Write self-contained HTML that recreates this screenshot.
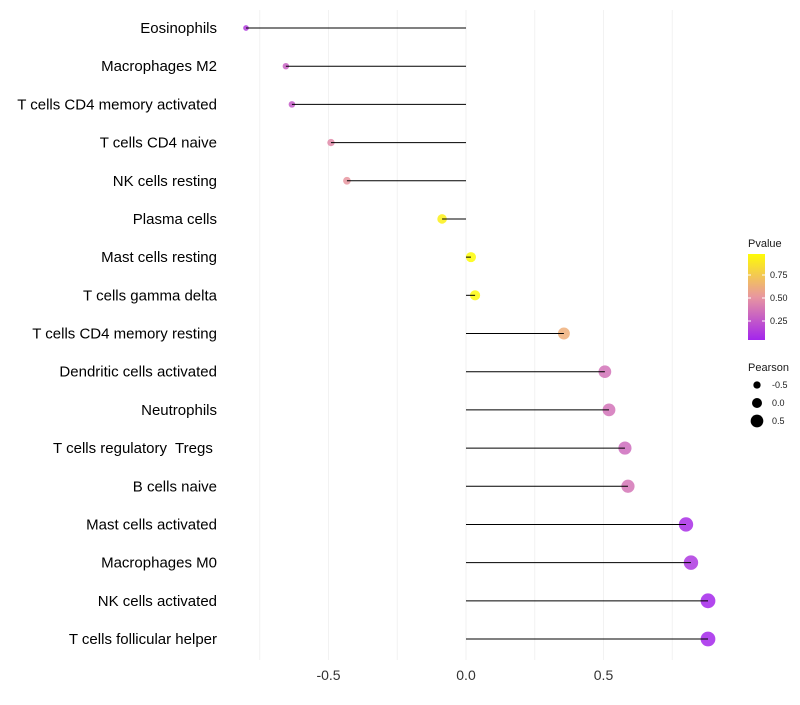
<!DOCTYPE html>
<html><head><meta charset="utf-8"><style>
body{margin:0;background:#fff;font-family:"Liberation Sans",sans-serif}
text{white-space:pre}
</style></head><body>
<svg id="c" width="800" height="700" xmlns="http://www.w3.org/2000/svg"></svg>
<script>
const categories=["Eosinophils","Macrophages M2","T cells CD4 memory activated","T cells CD4 naive","NK cells resting","Plasma cells","Mast cells resting","T cells gamma delta","T cells CD4 memory resting","Dendritic cells activated","Neutrophils","T cells regulatory  Tregs ","B cells naive","Mast cells activated","Macrophages M0","NK cells activated","T cells follicular helper"];
const pearson=[-0.80,-0.655,-0.633,-0.491,-0.433,-0.087,0.018,0.033,0.356,0.505,0.52,0.578,0.589,0.80,0.818,0.88,0.88];
const pvalue=[0.12,0.28,0.25,0.45,0.5,0.93,0.98,0.97,0.62,0.35,0.35,0.32,0.36,0.06,0.1,0.03,0.03];
const xTicks=[-0.5,0,0.5];
const xTickLabels=["-0.5","0.0","0.5"];
const pTicks=[0.25,0.5,0.75];
const pTickLabels=["0.25","0.50","0.75"];
const sizeLegend=[-0.5,0,0.5];
const sizeLegendLabels=["-0.5","0.0","0.5"];

const svg=document.getElementById('c');const NS="http://www.w3.org/2000/svg";
function mk(t,a,p){const e=document.createElementNS(NS,t);for(const k in a)e.setAttribute(k,a[k]);(p||svg).appendChild(e);return e;}
const X=v=>466+v*275;
const Y=i=>28+i*((639-28)/(categories.length-1));
const R=p=>Math.max(1.5,5+2.7*p);
function lerp(a,b,t){return a.map((v,i)=>Math.round(v+(b[i]-v)*t));}
function col(p){const c0=[160,32,240],c1=[232,150,160],c2=[255,255,0];const t=Math.min(1,Math.max(0,p));const c=t<0.5?lerp(c0,c1,t/0.5):lerp(c1,c2,(t-0.5)/0.5);return `rgb(${c[0]},${c[1]},${c[2]})`;}

for(let v=-0.75;v<=0.76;v+=0.25){const g=mk('line',{x1:X(v),x2:X(v),y1:10,y2:660,stroke:'#f2f2f2','stroke-width':1});
}
xTicks.forEach((v,i)=>{const t=mk('text',{x:X(v),y:680,'text-anchor':'middle','font-size':14,fill:'#333'});t.textContent=xTickLabels[i];
});
categories.forEach((c,i)=>{
 const t=mk('text',{x:217,y:Y(i)+5,'text-anchor':'end','font-size':15,fill:'#000'});t.textContent=c;
 
 const p=mk('circle',{cx:X(pearson[i]),cy:Y(i),r:R(pearson[i]),fill:col(pvalue[i]),'fill-opacity':0.85});
 
 const l=mk('line',{x1:X(0),x2:X(pearson[i]),y1:Y(i),y2:Y(i),stroke:'#000','stroke-width':1});
 
});
const lt=mk('text',{x:748,y:247,'font-size':11,fill:'#1a1a1a'});lt.textContent='Pvalue';

const defs=mk('defs',{});const gr=mk('linearGradient',{id:'pg',x1:0,y1:1,x2:0,y2:0},defs);
[0,0.25,0.5,0.75,1].forEach(o=>mk('stop',{offset:o,'stop-color':col(0.02+o*0.96)},gr));
const PY=p=>344-p*92;
const rb=mk('rect',{x:748,y:254,width:17,height:86,fill:'url(#pg)'});

pTicks.forEach((v,i)=>{mk('line',{x1:748,x2:751,y1:PY(v),y2:PY(v),stroke:'#fff'});mk('line',{x1:762,x2:765,y1:PY(v),y2:PY(v),stroke:'#fff'});
 const t=mk('text',{x:770,y:PY(v)+3,'font-size':9,fill:'#1a1a1a'});t.textContent=pTickLabels[i];
 });
const st=mk('text',{x:748,y:371,'font-size':11,fill:'#1a1a1a'});st.textContent='Pearson';

sizeLegend.forEach((v,i)=>{const y=385+i*18;const c=mk('circle',{cx:757,cy:y,r:R(v),fill:'#000'});
 
 const t=mk('text',{x:772,y:y+3,'font-size':9,fill:'#1a1a1a'});t.textContent=sizeLegendLabels[i];
 });
</script>
</body></html>
